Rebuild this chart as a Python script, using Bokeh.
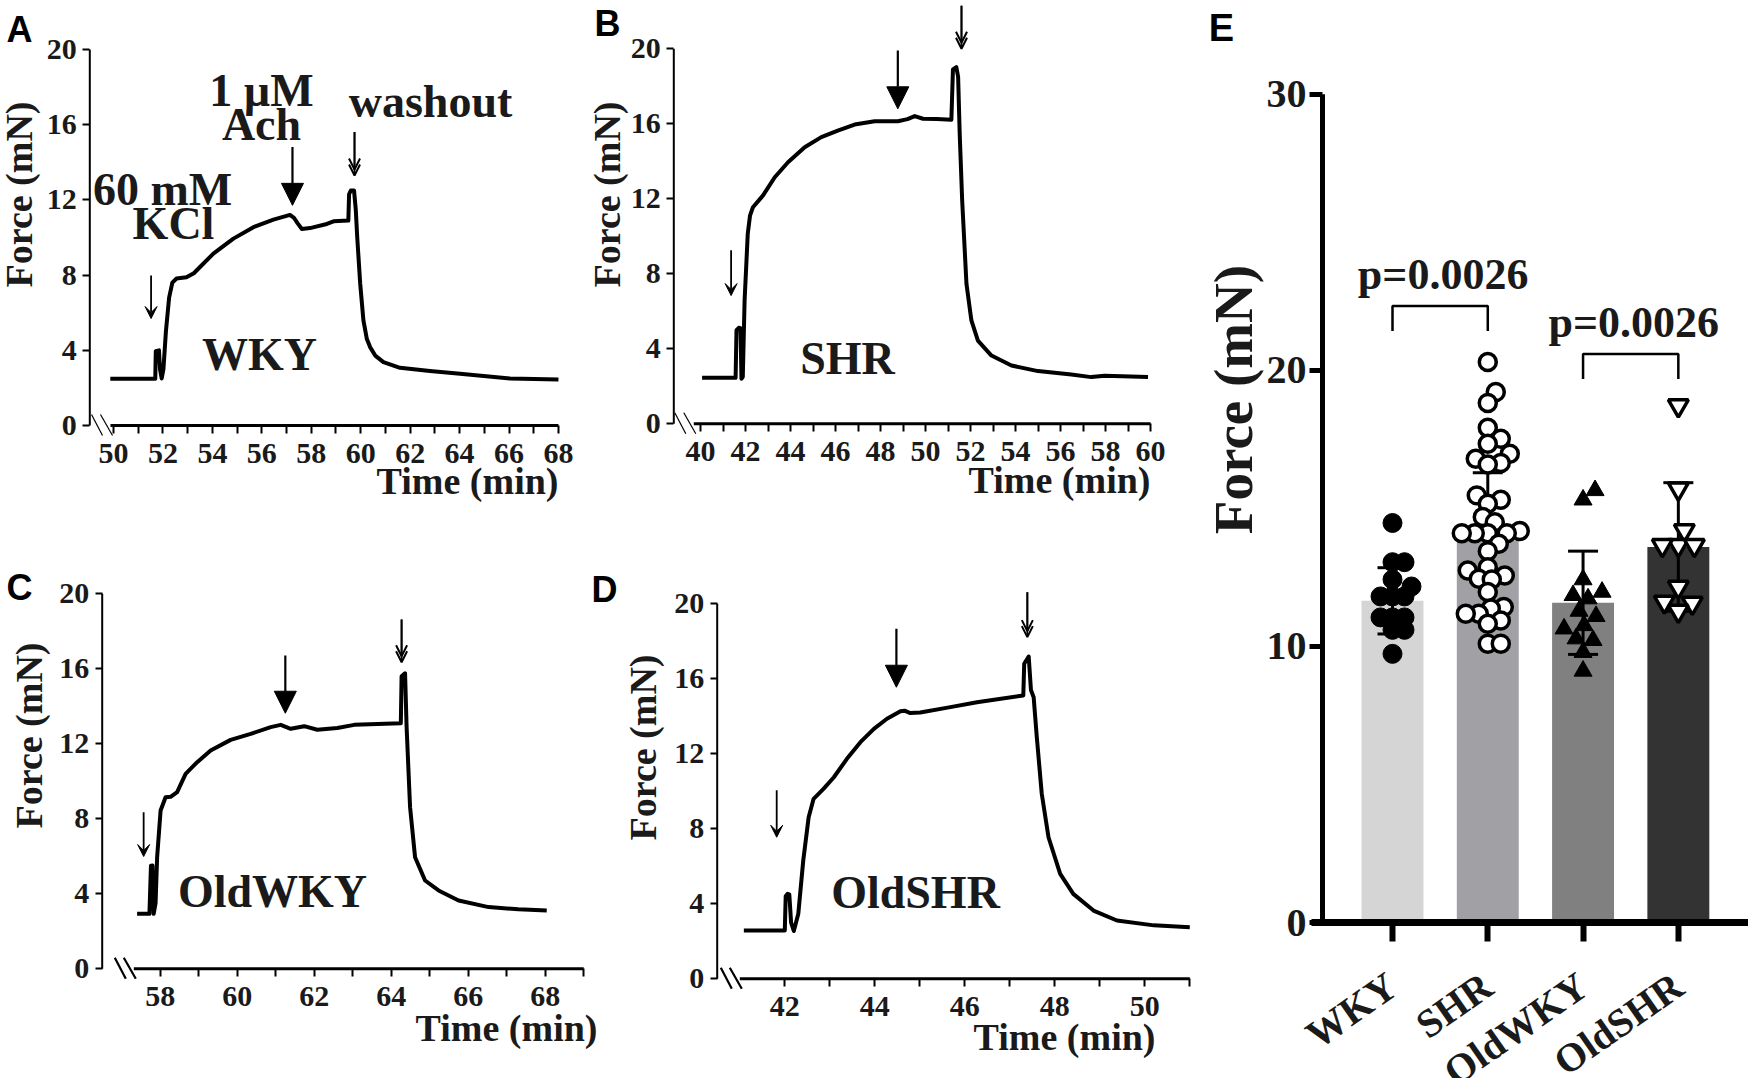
import math
from bokeh.plotting import figure
from bokeh.layouts import row, column
from bokeh.models import Range1d, FixedTicker, Label, Arrow, NormalHead, VeeHead, OpenHead
from bokeh.embed import file_html
from bokeh.resources import INLINE

SERIF = "Liberation Serif"
SANS = "Liberation Sans"
INK = "#1a1a1a"

# ---------------- data: isometric force traces (time in min, force in mN) ----------------
wky_time = [49.87, 51.69, 51.71, 51.84, 51.88, 51.95, 52.02, 52.12, 52.25, 52.38, 52.55, 52.95, 53.25, 53.5,
            54.04, 54.85, 55.66, 56.47, 57.0, 57.14, 57.3, 57.45, 57.62, 57.95, 58.63, 58.9, 59.5, 59.53,
            59.6, 59.73, 59.8, 59.86, 59.98, 60.11, 60.25, 60.38, 60.6, 60.92, 61.59, 62.8, 64.02, 66.04, 68.0]
wky_force = [2.49, 2.49, 3.95, 4.0, 3.0, 2.5, 3.0, 5.0, 6.8, 7.6, 7.82, 7.88, 8.1, 8.43,
             9.14, 9.94, 10.55, 10.95, 11.15, 11.2, 11.05, 10.75, 10.45, 10.5, 10.72, 10.86, 10.9, 12.3,
             12.5, 12.5, 11.5, 10.0, 7.54, 5.59, 4.6, 4.17, 3.7, 3.37, 3.07, 2.9, 2.75, 2.5, 2.45]

shr_time = [40.07, 41.56, 41.6, 41.7, 41.78, 41.82, 41.88, 41.96, 42.1, 42.2,
            42.33, 42.78, 43.3, 43.89, 44.63, 45.37, 46.1, 46.85, 47.74, 48.78,
            49.2, 49.52, 49.89, 50.5, 51.15, 51.22, 51.37, 51.45, 51.52, 51.63,
            51.82, 52.04, 52.33, 52.93, 53.82, 55.0, 56.48, 57.37, 57.96, 59.89]
shr_force = [2.45, 2.45, 5.0, 5.12, 5.1, 2.4, 2.5, 6.58, 10.13, 11.1,
             11.55, 12.18, 13.15, 13.95, 14.75, 15.29, 15.64, 15.96, 16.14, 16.14,
             16.25, 16.41, 16.27, 16.25, 16.22, 18.9, 19.02, 18.5, 15.47, 11.91,
             7.47, 5.51, 4.44, 3.64, 3.11, 2.81, 2.63, 2.49, 2.56, 2.49]

oldwky_time = [57.4, 57.72, 57.76, 57.8, 57.83, 57.88, 57.92, 58.01, 58.14, 58.27,
               58.44, 58.66, 58.96, 59.31, 59.83, 60.35, 60.87, 61.13, 61.39, 61.74,
               62.08, 62.6, 63.04, 64.25, 64.27, 64.36, 64.4, 64.49, 64.62, 64.88,
               65.23, 65.75, 66.53, 67.3, 68.04]
oldwky_force = [2.93, 2.93, 5.5, 5.51, 2.93, 3.5, 5.95, 8.44, 9.15, 9.17,
                9.42, 10.4, 11.02, 11.64, 12.21, 12.53, 12.89, 13.01, 12.8, 12.94,
                12.75, 12.84, 13.01, 13.1, 15.6, 15.76, 12.9, 8.62, 5.95, 4.71,
                4.18, 3.64, 3.29, 3.17, 3.11]

oldshr_time = [41.09, 42.0, 42.02, 42.06, 42.1, 42.14, 42.2, 42.3, 42.41, 42.53,
               42.64, 42.86, 43.09, 43.38, 43.68, 43.98, 44.27, 44.57, 44.66, 44.79,
               45.01, 45.68, 46.27, 47.3, 47.32, 47.42, 47.47, 47.53, 47.6, 47.71,
               47.86, 48.12, 48.41, 48.86, 49.38, 50.2, 51.0]
oldshr_force = [2.58, 2.58, 4.4, 4.53, 4.5, 3.0, 2.55, 3.47, 6.31, 8.62,
                9.6, 10.13, 10.75, 11.73, 12.62, 13.33, 13.87, 14.27, 14.3, 14.17,
                14.2, 14.49, 14.75, 15.11, 16.8, 17.19, 15.4, 15.02, 12.89, 9.87,
                7.55, 5.6, 4.53, 3.64, 3.11, 2.85, 2.75]

# drug-addition arrows: [KCl, ACh, washout] -> time, arrow tail force, arrow tip force
wky_arrow_time = [51.52, 57.24, 59.75]
wky_arrow_from = [7.98, 14.81, 15.61]
wky_arrow_to = [5.69, 11.71, 13.3]
shr_arrow_time = [41.36, 48.77, 51.6]
shr_arrow_from = [9.25, 19.91, 22.3]
shr_arrow_to = [6.84, 16.8, 20.0]
oldwky_arrow_time = [57.57, 61.25, 64.27]
oldwky_arrow_from = [8.35, 16.71, 18.63]
oldwky_arrow_to = [5.99, 13.63, 16.35]
oldshr_arrow_time = [41.82, 44.48, 47.39]
oldshr_arrow_from = [10.05, 18.67, 20.62]
oldshr_arrow_to = [7.55, 15.55, 18.22]

force_ticks = [0, 4, 8, 12, 16, 20]
wky_ticks = [50, 52, 54, 56, 58, 60, 62, 64, 66, 68]
wky_minor = [51, 53, 55, 57, 59, 61, 63, 65, 67]
shr_ticks = [40, 42, 44, 46, 48, 50, 52, 54, 56, 58, 60]
shr_minor = [41, 43, 45, 47, 49, 51, 53, 55, 57, 59]
oldwky_ticks = [58, 60, 62, 64, 66, 68]
oldwky_minor = [59, 61, 63, 65, 67, 69]
oldshr_ticks = [42, 44, 46, 48, 50]
oldshr_minor = [43, 45, 47, 49, 51]

# ---------------- data: panel E ----------------
groups = ["WKY", "SHR", "OldWKY", "OldSHR"]
group_mean = [11.65, 13.84, 11.58, 13.6]
group_sd = [1.2, 2.45, 1.87, 2.33]
bar_colors = ["#d5d5d5", "#a0a0a5", "#808080", "#333333"]
wky_points = [14.47, 13.05, 13.05, 12.42, 12.17, 11.81, 11.81, 11.81, 11.05, 11.05, 11.05, 10.6, 10.6, 9.73]
shr_points = [20.3, 19.21, 18.82, 17.92, 17.52, 17.34, 16.98, 16.8, 16.64, 16.59, 15.47, 15.31, 15.17,
              14.69, 14.5, 14.18, 14.1, 14.1, 14.1, 14.1, 13.72, 13.45, 12.87, 12.75, 12.57, 12.45,
              12.42, 11.97, 11.43, 11.37, 11.18, 11.18, 10.94, 10.82, 10.1, 10.1]
oldwky_points = [15.65, 15.31, 12.42, 11.97, 11.85, 11.73, 11.28, 11.09, 10.76, 10.64, 10.28, 10.22, 9.79, 9.11]
oldshr_points = [18.72, 15.71, 14.2, 13.66, 13.66, 13.66, 12.15, 11.61, 11.57, 11.28]
bar_ticks = [0, 10, 20, 30]
sig_pairs = [(0, 1), (2, 3)]
sig_top = [22.33, 20.59]
sig_text = ["p=0.0026", "p=0.0026"]


# ---------------- helpers ----------------
def make_fig(box, cal):
    """Figure whose frame fills its whole box; cal maps page pixels to data."""
    bx, by, bw, bh = box
    (px0, x0, ppx), (py0, y0, ppy) = cal

    def fx(px):
        return x0 + (px - px0) / ppx

    def fy(py):
        return y0 + (py0 - py) / ppy

    p = figure(width=bw, height=bh, x_range=Range1d(fx(bx), fx(bx + bw)),
               y_range=Range1d(fy(by + bh), fy(by)), output_backend="svg",
               toolbar_location=None, min_border=0, min_border_left=0, min_border_right=0,
               min_border_top=0, min_border_bottom=0)
    p.title.text = ""
    p.title.visible = False
    p.outline_line_color = None
    p.xgrid.visible = False
    p.ygrid.visible = False
    p.background_fill_color = "white"
    p.border_fill_color = "white"
    return p, fx, fy


def lab(p, x, y, text, size, ppy, font=SERIF, align="center", baseline="alphabetic",
        angle=0.0, style="bold", color=INK):
    # y is the text baseline (data units) unless baseline == "middle"
    if baseline == "alphabetic":
        y = y + 0.3375 * size / ppy
        baseline = "middle"
    p.add_layout(Label(x=x, y=y, text=text, text_font=font, text_font_style=style,
                       text_font_size=f"{size}px", text_align=align, text_baseline=baseline,
                       angle=angle, text_color=color))


def style_axis(ax, size):
    ax.axis_line_color = None
    ax.major_tick_in = 0
    ax.major_tick_line_color = "black"
    ax.minor_tick_line_color = None
    ax.major_label_text_font = SERIF
    ax.major_label_text_font_style = "bold"
    ax.major_label_text_font_size = f"{size}px"
    ax.major_label_text_color = INK


def trace_panel(box, cal, t, f, ticks, minor, yaxis_px, xaxis_start_px, t_end,
                arr_t, arr_from, arr_to, letters, name, name_px, force_px, time_px,
                break_w, extras=()):
    p, fx, fy = make_fig(box, cal)
    ppy = cal[1][2]
    y0px = cal[1][0]
    t_axis = fx(yaxis_px)

    # axis lines (y axis 0-20, x axis after the break)
    p.segment(x0=[t_axis], y0=[0], x1=[t_axis], y1=[20], line_color="black", line_width=2)
    p.segment(x0=[fx(xaxis_start_px)], y0=[0], x1=[t_end], y1=[0], line_color="black", line_width=3)
    # axis break marks
    xs = xaxis_start_px
    p.segment(x0=[fx(xs - 19), fx(xs - 10)], y0=[fy(y0px - 11)] * 2,
              x1=[fx(xs - 8), fx(xs + 2)], y1=[fy(y0px + 10)] * 2,
              line_color="black", line_width=break_w)

    p.line(t, f, line_color="black", line_width=4, line_join="round")

    xa, ya = p.xaxis[0], p.yaxis[0]
    xa.fixed_location = 0
    ya.fixed_location = t_axis
    xa.ticker = FixedTicker(ticks=ticks, minor_ticks=minor)
    ya.ticker = FixedTicker(ticks=force_ticks)
    style_axis(xa, 30)
    style_axis(ya, 30)
    xa.major_tick_out = 8
    xa.major_tick_line_width = 2
    xa.minor_tick_out = 8
    xa.minor_tick_in = 0
    xa.minor_tick_line_width = 2
    xa.minor_tick_line_color = "black"
    xa.major_label_standoff = 10
    ya.major_tick_out = 7
    ya.major_tick_line_width = 2
    ya.major_label_standoff = 6

    # arrows: KCl (small), ACh (large), washout (double chevron)
    p.add_layout(Arrow(end=VeeHead(size=12, fill_color="black", line_color="black", line_width=1),
                       x_start=arr_t[0], y_start=arr_from[0], x_end=arr_t[0], y_end=arr_to[0],
                       line_width=1.8, line_color="black"))
    p.add_layout(Arrow(end=NormalHead(size=22, fill_color="black", line_color="black", line_width=1),
                       x_start=arr_t[1], y_start=arr_from[1], x_end=arr_t[1], y_end=arr_to[1],
                       line_width=2.2, line_color="black"))
    for k in (0, 1):
        p.add_layout(Arrow(end=OpenHead(size=11, line_width=2, line_color="black"),
                           x_start=arr_t[2], y_start=arr_from[2], x_end=arr_t[2],
                           y_end=arr_to[2] + k * 6.0 / ppy, line_width=1.8, line_color="black"))

    for txt, lx, ly in letters:
        lab(p, fx(lx), fy(ly), txt, 36, ppy, font=SANS, baseline="middle", color="black")
    lab(p, fx(name_px[0]), fy(name_px[1]), name, 46, ppy)
    lab(p, fx(force_px[0]), fy(force_px[1]), "Force (mN)", 38, ppy, baseline="middle", angle=math.pi / 2)
    lab(p, fx(time_px[0]), fy(time_px[1]), "Time (min)", 38, ppy, align="right")
    for txt, cx, by in extras:
        lab(p, fx(cx), fy(by), txt, 46, ppy)
    return p


def swarm(vals, ypp, xpp, dmin):
    order = sorted(range(len(vals)), key=lambda i: vals[i])
    cands = sorted(range(-45, 46), key=lambda c: (abs(c), -c))
    placed, out = [], [0.0] * len(vals)
    for i in order:
        yp = vals[i] * ypp
        chosen = 0
        for c in cands:
            if all((c - px) ** 2 + (yp - py) ** 2 >= dmin * dmin for px, py in placed):
                chosen = c
                break
        placed.append((chosen, yp))
        out[i] = chosen / xpp
    return out


# ---------------- panels A-D (page pixel calibration: tick value at px, px per unit) ----------------
pA = trace_panel((0, 0, 580, 540), ((113.0, 50, 24.72), (425.0, 0, 18.8)),
                 wky_time, wky_force, wky_ticks, wky_minor, 89.3, 110, 68,
                 wky_arrow_time, wky_arrow_from, wky_arrow_to,
                 [("A", 19, 29)], "WKY", (259, 370), (18, 194), (558, 493), 1.2,
                 extras=[("60 mM", 162, 205), ("KCl", 173, 239), ("1 µM", 261, 106),
                         ("Ach", 261, 140), ("washout", 430, 117)])
pB = trace_panel((580, 0, 620, 540), ((700.0, 40, 22.5), (423.3, 0, 18.75)),
                 shr_time, shr_force, shr_ticks, shr_minor, 673.3, 693.3, 60,
                 shr_arrow_time, shr_arrow_from, shr_arrow_to,
                 [("B", 607, 23)], "SHR", (847, 374), (606, 194), (1150, 492), 1.2)
pC = trace_panel((0, 540, 620, 538), ((159.7, 58, 38.5), (968.3, 0, 18.75)),
                 oldwky_time, oldwky_force, oldwky_ticks, oldwky_minor, 101.7, 133.3, 69,
                 oldwky_arrow_time, oldwky_arrow_from, oldwky_arrow_to,
                 [("C", 19, 587), ("D", 604, 589)], "OldWKY", (272, 907), (28, 735), (597, 1040), 2.2)
pD = trace_panel((620, 540, 580, 538), ((784.3, 42, 45.0), (978.3, 0, 18.75)),
                 oldshr_time, oldshr_force, oldshr_ticks, oldshr_minor, 716.7, 739.3, 51,
                 oldshr_arrow_time, oldshr_arrow_from, oldshr_arrow_to,
                 [], "OldSHR", (915, 908), (642, 747), (1155, 1049), 2.2)

# ---------------- panel E ----------------
xppE, yppE = 95.28, 27.61
pE, ex, ey = make_fig((1200, 0, 548, 1078), ((1392.0, 1, xppE), (922.0, 0, yppE)))
cat_pos = [1, 2, 3, 4]
y_axis_x = ex(1322)

pE.vbar(x=cat_pos, top=group_mean, width=0.65, fill_color=bar_colors, line_color=None)
lo = [m - s for m, s in zip(group_mean, group_sd)]
hi = [m + s for m, s in zip(group_mean, group_sd)]
capw = 15.0 / xppE
pE.segment(x0=cat_pos, y0=lo, x1=cat_pos, y1=hi, line_color="black", line_width=3)
for yy in (lo, hi):
    pE.segment(x0=[c - capw for c in cat_pos], y0=yy, x1=[c + capw for c in cat_pos], y1=yy,
               line_color="black", line_width=3)

point_sets = [wky_points, shr_points, oldwky_points, oldshr_points]
styles = [dict(marker="circle", size=19, fill_color="black", line_color="black", line_width=1, d=12),
          dict(marker="circle", size=17, fill_color="white", line_color="black", line_width=3.5, d=13),
          dict(marker="triangle", size=18, fill_color="black", line_color="black", line_width=1, d=15),
          dict(marker="inverted_triangle", size=20, fill_color="white", line_color="black",
               line_width=3.5, d=16)]
for c, pts, st in zip(cat_pos, point_sets, styles):
    offs = swarm(pts, yppE, xppE, st["d"])
    pE.scatter([c + o for o in offs], pts, marker=st["marker"], size=st["size"],
               fill_color=st["fill_color"], line_color=st["line_color"], line_width=st["line_width"])

# axis lines
pE.segment(x0=[y_axis_x], y0=[0], x1=[y_axis_x], y1=[30], line_color="black", line_width=5)
pE.segment(x0=[ex(1311)], y0=[0], x1=[ex(1748)], y1=[0], line_color="black", line_width=7)

leg = 25.0 / yppE
for (a, b), top, txt in zip(sig_pairs, sig_top, sig_text):
    xa_, xb_ = cat_pos[a], cat_pos[b]
    pE.line([xa_, xa_, xb_, xb_], [top - leg, top, top, top - leg], line_color="black", line_width=2.5)
    lab(pE, (xa_ + xb_) / 2 + 3.0 / xppE, top + 17.0 / yppE, txt, 44, yppE)

ya, xa = pE.yaxis[0], pE.xaxis[0]
ya.fixed_location = y_axis_x
xa.fixed_location = 0
ya.ticker = FixedTicker(ticks=bar_ticks)
style_axis(ya, 40)
ya.major_tick_out = 13
ya.major_tick_line_width = 5
ya.major_label_standoff = 3
xa.ticker = FixedTicker(ticks=cat_pos)
style_axis(xa, 40)
xa.major_label_overrides = {c: g for c, g in zip(cat_pos, groups)}
xa.major_label_orientation = math.radians(35)
xa.major_label_standoff = 40
xa.major_tick_out = 19
xa.major_tick_line_width = 6

lab(pE, ex(1233), ey(399), "Force (mN)", 55, yppE, baseline="middle", angle=math.pi / 2)
lab(pE, ex(1221), ey(27), "E", 38, yppE, font=SANS, baseline="middle", color="black")

layout = row(column(row(pA, pB), row(pC, pD)), pE)
open("out.html", "w").write(file_html(layout, INLINE))
